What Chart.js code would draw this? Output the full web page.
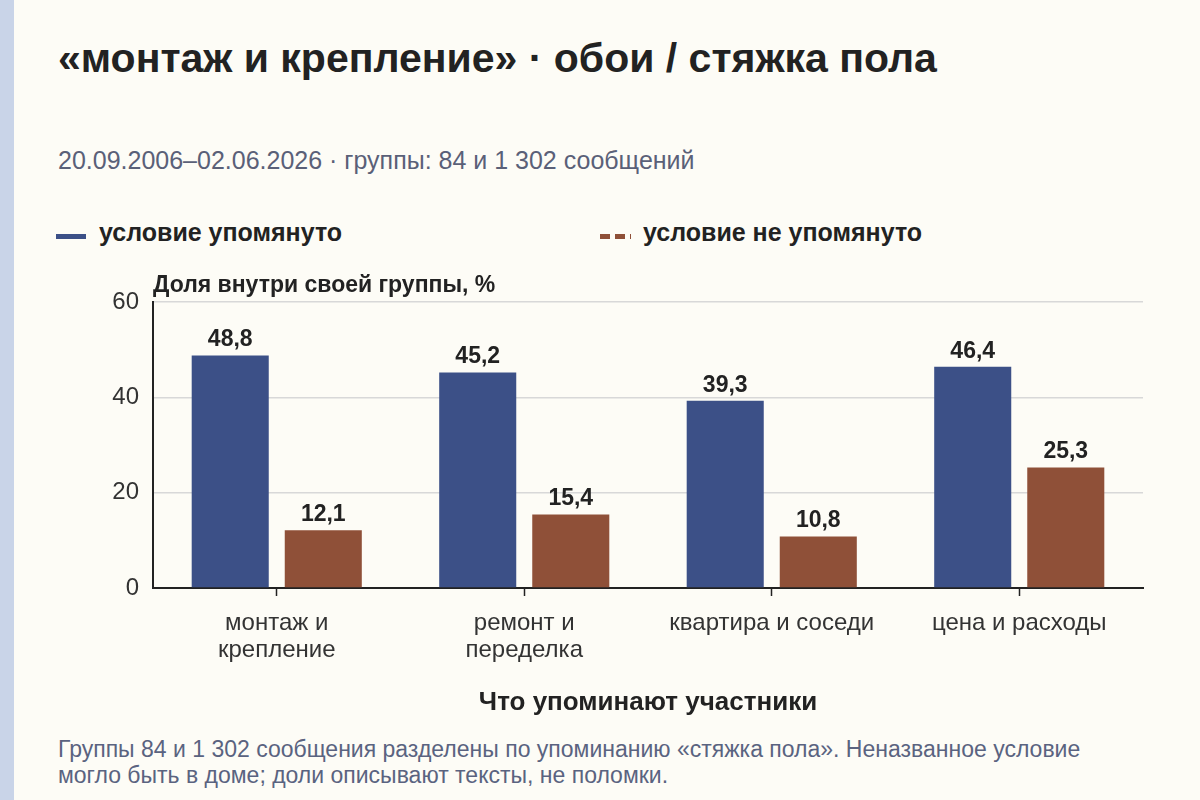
<!DOCTYPE html>
<html>
<head>
<meta charset="utf-8">
<script src="https://cdn.jsdelivr.net/npm/chart.js@4"></script>
<style>
  html, body { margin: 0; padding: 0; }
  body {
    width: 1200px; height: 800px; position: relative; overflow: hidden;
    background: #fdfcf6; font-family: "Liberation Sans", Arial, sans-serif;
  }
  #strip { position: absolute; left: 0; top: 0; width: 14px; height: 800px; background: #c9d4e8; }
  #title { position: absolute; left: 58px; top: 35px; font-size: 41px; font-weight: bold; color: #222; white-space: nowrap; }
  #sub { position: absolute; left: 58px; top: 146px; font-size: 25px; color: #5a6078; white-space: nowrap; }
  .leg { position: absolute; top: 218px; font-size: 25px; font-weight: bold; color: #222; }
  .leg .sw { position: absolute; left: 0; top: 16px; width: 31px; height: 5px; }
  .leg span.t { position: absolute; left: 43px; top: 0; white-space: nowrap; }
  #note { position: absolute; left: 58px; top: 736px; font-size: 23px; line-height: 26px; color: #5a6380; white-space: nowrap; }
  canvas { position: absolute; left: 0; top: 0; }
</style>
</head>
<body>
<div id="strip"></div>
<div id="title">«монтаж и крепление» · обои / стяжка пола</div>
<div id="sub">20.09.2006–02.06.2026 · группы: 84 и 1 302 сообщений</div>
<div class="leg" style="left:56px"><div class="sw" style="width:30px;background:#3c5087"></div><span class="t">условие упомянуто</span></div>
<div class="leg" style="left:600px"><div class="sw" style="background:repeating-linear-gradient(90deg,#8f5038 0 10px,transparent 10px 15px)"></div><span class="t">условие не упомянуто</span></div>
<div id="note">Группы 84 и 1 302 сообщения разделены по упоминанию «стяжка пола». Неназванное условие<br>могло быть в доме; доли описывают тексты, не поломки.</div>
<canvas id="chart" width="1200" height="800"></canvas>
<script>
// Categories and values (percent within own group)
var categories = [["монтаж и", "крепление"], ["ремонт и", "переделка"], "квартира и соседи", "цена и расходы"];
var mentioned = [48.8, 45.2, 39.3, 46.4];
var notMentioned = [12.1, 15.4, 10.8, 25.3];
var seriesNames = ["условие упомянуто", "условие не упомянуто"];
var yTicks = [0, 20, 40, 60];

var FONT = "'Liberation Sans', Arial, sans-serif";

// Value labels above bars
var valueLabels = {
  id: "valueLabels",
  afterDatasetsDraw: function (chart) {
    var ctx = chart.ctx;
    ctx.save();
    ctx.font = "bold 23px " + FONT;
    ctx.fillStyle = "#222";
    ctx.textAlign = "center";
    ctx.textBaseline = "bottom";
    chart.data.datasets.forEach(function (ds, i) {
      chart.getDatasetMeta(i).data.forEach(function (bar, j) {
        ctx.fillText(ds.data[j].toFixed(1).replace(".", ","), bar.x, bar.y - 4);
      });
    });
    ctx.restore();
  }
};

// Y axis title above the plot, aligned with its left edge
var yTitle = {
  id: "yTitle",
  afterDraw: function (chart) {
    var ctx = chart.ctx;
    ctx.save();
    ctx.font = "bold 23px " + FONT;
    ctx.fillStyle = "#222";
    ctx.textAlign = "left";
    ctx.textBaseline = "bottom";
    ctx.fillText("Доля внутри своей группы, %", chart.chartArea.left, chart.chartArea.top - 5);
    ctx.restore();
  }
};

var ctx = document.getElementById("chart").getContext("2d");
new Chart(ctx, {
  type: "bar",
  data: {
    labels: categories,
    datasets: [
      { label: seriesNames[0], data: mentioned, backgroundColor: "#3c5087" },
      { label: seriesNames[1], data: notMentioned, backgroundColor: "#8f5038" }
    ]
  },
  options: {
    responsive: false,
    animation: false,
    categoryPercentage: 0.752,
    barPercentage: 0.828,
    layout: { padding: { left: 93, right: 57, top: 302, bottom: 82 } },
    plugins: { legend: { display: false }, tooltip: { enabled: false } },
    scales: {
      x: {
        afterFit: function (s) { s.height = 130; },
        grid: { drawOnChartArea: false, offset: false, color: "#222", tickLength: 8, tickWidth: 1.5 },
        border: { color: "#222", width: 2 },
        ticks: { font: { family: FONT, size: 24, lineHeight: 1.12 }, color: "#333", padding: 14 },
        title: {
          display: true, text: "Что упоминают участники",
          font: { family: FONT, size: 26, weight: "bold" }, color: "#222",
          padding: { top: 0, bottom: 0 }
        }
      },
      y: {
        min: 0, max: 60,
        afterFit: function (s) { s.width = 60; },
        afterBuildTicks: function (s) { s.ticks = yTicks.map(function (v) { return { value: v }; }); },
        grid: { color: "#d8d8d8", lineWidth: 1.5, drawTicks: false },
        border: { color: "#222", width: 2 },
        ticks: { font: { family: FONT, size: 24 }, color: "#333", padding: 14 }
      }
    }
  },
  plugins: [valueLabels, yTitle]
});
</script>
</body>
</html>
